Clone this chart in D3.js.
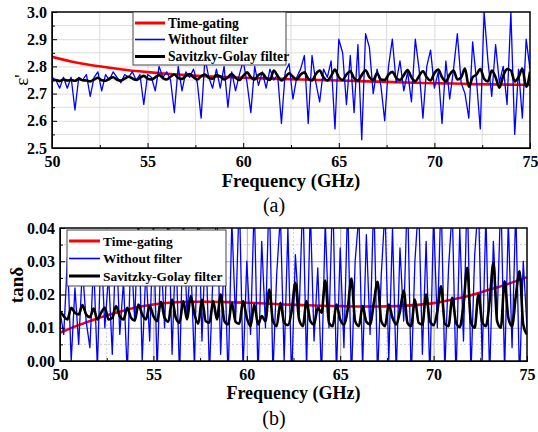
<!DOCTYPE html>
<html>
<head>
<meta charset="utf-8">
<script src="https://cdn.jsdelivr.net/npm/d3@7"></script>
<style>
  body { margin: 0; background: #fff; }
  svg, svg text { font-family: "Liberation Serif", "Times New Roman", serif; }
  svg { display: block; }
</style>
</head>
<body>
<div id="chart"></div>
<script>
// Sampling grid of the measured curves (GHz)
const freqStart = 50, freqStep = 0.2, freqCount = 126;
const freq = d3.range(freqCount).map(i => +(freqStart + i * freqStep).toFixed(1));
const freqCoarse = d3.range(50, 76);   // time-gating curves, 1 GHz step

const seriesNames = ['Time-gating', 'Without filter', 'Savitzky-Golay filter'];

// (a) real permittivity
const epsTimeGating = [2.835, 2.818, 2.805, 2.795, 2.786, 2.779, 2.773, 2.768, 2.764, 2.761, 2.758, 2.756, 2.754,
  2.752, 2.750, 2.748, 2.746, 2.744, 2.742, 2.740, 2.738, 2.737, 2.735, 2.734, 2.733, 2.732];

const epsRaw = [2.76, 2.75, 2.72, 2.76, 2.72, 2.76, 2.64, 2.76, 2.75, 2.77,
  2.69, 2.76, 2.78, 2.71, 2.77, 2.75, 2.78, 2.76, 2.74, 2.77,
  2.76, 2.78, 2.75, 2.77, 2.66, 2.77, 2.76, 2.71, 2.80, 2.76,
  2.78, 2.75, 2.63, 2.80, 2.71, 2.78, 2.76, 2.79, 2.74, 2.61,
  2.83, 2.76, 2.72, 2.79, 2.72, 2.80, 2.65, 2.78, 2.71, 2.77,
  2.82, 2.74, 2.63, 2.80, 2.73, 2.78, 2.72, 2.79, 2.75, 2.77,
  2.59, 2.78, 2.81, 2.68, 2.76, 2.79, 2.84, 2.59, 2.84, 2.74,
  2.67, 2.79, 2.76, 2.82, 2.57, 2.90, 2.85, 2.66, 2.84, 2.63,
  2.88, 2.53, 2.92, 2.87, 2.70, 2.79, 2.73, 2.60, 2.80, 2.90,
  2.74, 2.82, 2.71, 2.78, 2.67, 2.90, 2.79, 2.61, 2.80, 2.86,
  2.72, 2.78, 2.59, 2.82, 2.68, 2.79, 2.92, 2.74, 2.70, 2.61,
  2.89, 2.75, 2.57, 3.00, 2.82, 2.69, 2.88, 2.74, 2.80, 2.66,
  3.00, 2.55, 2.79, 2.61, 2.90, 2.79];

const epsSG = [2.748, 2.750, 2.746, 2.752, 2.748, 2.750, 2.747, 2.754, 2.749, 2.748,
  2.745, 2.752, 2.758, 2.749, 2.747, 2.755, 2.760, 2.751, 2.748, 2.755,
  2.762, 2.756, 2.750, 2.758, 2.765, 2.755, 2.752, 2.760, 2.768, 2.757,
  2.752, 2.762, 2.770, 2.758, 2.754, 2.765, 2.772, 2.760, 2.752, 2.764,
  2.770, 2.758, 2.755, 2.768, 2.763, 2.752, 2.760, 2.772, 2.758, 2.750,
  2.765, 2.778, 2.760, 2.752, 2.768, 2.775, 2.757, 2.750, 2.785, 2.765,
  2.748, 2.760, 2.775, 2.762, 2.752, 2.770, 2.778, 2.755, 2.748, 2.772,
  2.785, 2.760, 2.748, 2.765, 2.788, 2.760, 2.750, 2.770, 2.782, 2.757,
  2.748, 2.768, 2.786, 2.760, 2.750, 2.775, 2.752, 2.750, 2.770, 2.780,
  2.758, 2.750, 2.768, 2.787, 2.760, 2.745, 2.765, 2.782, 2.760, 2.748,
  2.775, 2.788, 2.760, 2.745, 2.770, 2.785, 2.752, 2.760, 2.792, 2.725,
  2.760, 2.770, 2.790, 2.755, 2.745, 2.785, 2.760, 2.722, 2.765, 2.790,
  2.785, 2.745, 2.760, 2.792, 2.725, 2.780];

// (b) loss tangent
const tanTimeGating = [0.0085, 0.0108, 0.0128, 0.0145, 0.0160, 0.0170, 0.0176, 0.0178, 0.0178, 0.0177, 0.0175,
  0.0173, 0.0170, 0.0168, 0.0166, 0.0165, 0.0164, 0.0164, 0.0165, 0.0168, 0.0174, 0.0185, 0.0198, 0.0215,
  0.0232, 0.0252];

const tanRaw = [0.015, 0.008, 0.031, 0.000, 0.022, 0.005, 0.028, 0.012, 0.004, 0.030,
  -0.002, 0.035, 0.010, 0.026, 0.002, 0.038, 0.008, 0.024, -0.004, 0.034,
  0.012, 0.045, 0.000, 0.028, 0.006, 0.042, -0.003, 0.032, 0.010, 0.048,
  0.002, 0.036, -0.005, 0.044, 0.014, 0.030, -0.002, 0.050, 0.006, 0.038,
  -0.004, 0.028, 0.046, 0.002, 0.034, -0.006, 0.042, 0.012, 0.050, -0.003,
  0.030, 0.008, 0.048, -0.005, 0.036, 0.010, 0.052, -0.004, 0.026, 0.044,
  0.000, 0.040, -0.006, 0.032, 0.014, 0.050, -0.002, 0.046, 0.006, 0.028,
  -0.005, 0.042, 0.010, 0.052, -0.004, 0.034, 0.004, 0.048, -0.006, 0.030,
  0.044, -0.002, 0.038, 0.008, 0.050, -0.005, 0.026, 0.046, 0.000, 0.040,
  -0.004, 0.034, 0.012, 0.052, -0.006, 0.030, 0.048, 0.002, 0.036, -0.005,
  0.044, 0.010, 0.050, -0.003, 0.028, 0.046, -0.006, 0.040, 0.006, 0.052,
  -0.004, 0.032, 0.048, 0.000, 0.044, -0.005, 0.036, 0.012, 0.050, -0.003,
  0.042, 0.004, 0.046, -0.006, 0.030, 0.010];

const tanSG = [0.0150, 0.0135, 0.0125, 0.0160, 0.0145, 0.0140, 0.0168, 0.0140, 0.0132, 0.0158,
  0.0125, 0.0145, 0.0160, 0.0125, 0.0130, 0.0165, 0.0135, 0.0125, 0.0160, 0.0130,
  0.0122, 0.0170, 0.0140, 0.0125, 0.0165, 0.0135, 0.0120, 0.0178, 0.0130, 0.0118,
  0.0185, 0.0130, 0.0115, 0.0180, 0.0125, 0.0195, 0.0140, 0.0112, 0.0185, 0.0120,
  0.0115, 0.0180, 0.0125, 0.0200, 0.0120, 0.0110, 0.0175, 0.0118, 0.0112, 0.0180,
  0.0130, 0.0105, 0.0170, 0.0110, 0.0135, 0.0120, 0.0215, 0.0120, 0.0105, 0.0175,
  0.0115, 0.0108, 0.0150, 0.0235, 0.0125, 0.0105, 0.0180, 0.0120, 0.0110, 0.0160,
  0.0145, 0.0242, 0.0115, 0.0105, 0.0170, 0.0125, 0.0110, 0.0155, 0.0248, 0.0120,
  0.0105, 0.0165, 0.0118, 0.0110, 0.0175, 0.0238, 0.0120, 0.0105, 0.0170, 0.0130,
  0.0110, 0.0150, 0.0212, 0.0115, 0.0105, 0.0185, 0.0115, 0.0110, 0.0200, 0.0120,
  0.0108, 0.0150, 0.0225, 0.0112, 0.0105, 0.0190, 0.0115, 0.0102, 0.0170, 0.0280,
  0.0115, 0.0100, 0.0200, 0.0118, 0.0105, 0.0180, 0.0295, 0.0120, 0.0100, 0.0240,
  0.0130, 0.0105, 0.0195, 0.0270, 0.0110, 0.0080];

const xTicks = [50, 55, 60, 65, 70, 75];
const xMinorTicks = [52.5, 57.5, 62.5, 67.5, 72.5];
const epsTicks = [2.5, 2.6, 2.7, 2.8, 2.9, 3.0];
const tanTicks = [0.00, 0.01, 0.02, 0.03, 0.04];

const W = 538, H = 432;
const serif = '"Liberation Serif", "Times New Roman", serif';
const colors = ['#ff0000', '#0000ff', '#000000'];
const widths = [2.6, 1.3, 2.6];

const svg = d3.select('#chart').append('svg')
  .attr('width', W).attr('height', H).attr('viewBox', `0 0 ${W} ${H}`);

const panels = [
  {
    id: 'a', left: 52, right: 530, top: 12, bottom: 148,
    yDomain: [2.5, 3.0], yTicks: epsTicks, yMinorStep: 0.05, yFmt: d3.format('.1f'),
    series: [epsTimeGating, epsRaw, epsSG],
    majorGrid: '#dcdcdc', minorGrid: '#dcdcdc', minorDash: null,
    legend: { x: 133, y: 12, w: 153, h: 53, rows: [23, 39.5, 56.5], lx0: 135, lx1: 165, tx: 168, font: 13.6 },
    ylabel: "ε'", ylabelX: 28, ylabelY: 80, ylabelBold: false,
    xlabelY: 187, xlabelSize: 18.6, cap: '(a)', capY: 212
  },
  {
    id: 'b', left: 60, right: 527, top: 228, bottom: 361,
    yDomain: [0, 0.04], yTicks: tanTicks, yMinorStep: 0.005, yFmt: d3.format('.2f'),
    series: [tanTimeGating, tanRaw, tanSG],
    majorGrid: '#a8a8a8', minorGrid: '#cfcfcf', minorDash: '2,2',
    legend: { x: 67, y: 230, w: 159, h: 56, rows: [241, 258.5, 276], lx0: 69, lx1: 100, tx: 103, font: 13.4 },
    ylabel: 'tanδ', ylabelX: 23, ylabelY: 285, ylabelBold: true,
    xlabelY: 399, xlabelSize: 18, cap: '(b)', capY: 425
  }
];

panels.forEach(drawPanel);

function drawPanel(p) {
  const x = d3.scaleLinear().domain([50, 75]).range([p.left, p.right]);
  const y = d3.scaleLinear().domain(p.yDomain).range([p.bottom, p.top]);
  const g = svg.append('g');

  const yMinor = d3.range(p.yDomain[0], p.yDomain[1] + 1e-9, p.yMinorStep)
    .map(v => +v.toFixed(4))
    .filter(v => !p.yTicks.some(t => Math.abs(t - v) < 1e-9));

  // gridlines: minor first, then major
  const grid = g.append('g').attr('class', 'grid');
  grid.selectAll('.gx-minor').data(xMinorTicks).join('line')
    .attr('x1', d => x(d)).attr('x2', d => x(d)).attr('y1', p.top).attr('y2', p.bottom)
    .attr('stroke', p.minorGrid).attr('stroke-dasharray', p.minorDash);
  grid.selectAll('.gy-minor').data(yMinor).join('line')
    .attr('x1', p.left).attr('x2', p.right).attr('y1', d => y(d)).attr('y2', d => y(d))
    .attr('stroke', p.minorGrid).attr('stroke-dasharray', p.minorDash);
  g.append('g')
    .attr('transform', `translate(0,${p.top})`)
    .call(d3.axisBottom(x).tickValues(xTicks.slice(1, -1)).tickSize(p.bottom - p.top).tickFormat(''))
    .call(a => a.select('.domain').remove())
    .call(a => a.selectAll('line').attr('stroke', p.majorGrid));
  g.append('g')
    .attr('transform', `translate(${p.left},0)`)
    .call(d3.axisRight(y).tickValues(p.yTicks.slice(1, -1)).tickSize(p.right - p.left).tickFormat(''))
    .call(a => a.select('.domain').remove())
    .call(a => a.selectAll('line').attr('stroke', p.majorGrid));

  // data lines, clipped to the plot area
  const clipId = 'clip-' + p.id;
  svg.append('clipPath').attr('id', clipId).append('rect')
    .attr('x', p.left).attr('y', p.top).attr('width', p.right - p.left).attr('height', p.bottom - p.top);

  const lines = g.append('g').attr('clip-path', `url(#${clipId})`);
  const smooth = d3.line().x(d => x(d[0])).y(d => y(d[1])).curve(d3.curveMonotoneX);
  const raw = d3.line().x(d => x(d[0])).y(d => y(d[1]));

  lines.append('path')
    .datum(freqCoarse.map((f, i) => [f, p.series[0][i]]))
    .attr('d', smooth).attr('fill', 'none').attr('stroke', colors[0]).attr('stroke-width', widths[0]);
  lines.append('path')
    .datum(freq.map((f, i) => [f, p.series[1][i]]))
    .attr('d', raw).attr('fill', 'none').attr('stroke', colors[1]).attr('stroke-width', widths[1])
    .attr('stroke-linejoin', 'round');
  lines.append('path')
    .datum(freq.map((f, i) => [f, p.series[2][i]]))
    .attr('d', smooth).attr('fill', 'none').attr('stroke', colors[2]).attr('stroke-width', widths[2])
    .attr('stroke-linejoin', 'round');

  // axes with inward ticks
  const xAxis = g.append('g').attr('transform', `translate(0,${p.bottom})`)
    .call(d3.axisBottom(x).tickValues(xTicks).tickSize(-5).tickPadding(8).tickFormat(d3.format('d')));
  g.append('g').attr('transform', `translate(0,${p.bottom})`)
    .call(d3.axisBottom(x).tickValues(xMinorTicks).tickSize(-3).tickFormat(''))
    .call(a => a.select('.domain').remove());
  const yAxis = g.append('g').attr('transform', `translate(${p.left},0)`)
    .call(d3.axisLeft(y).tickValues(p.yTicks).tickSize(-5).tickPadding(5).tickFormat(p.yFmt));
  g.append('g').attr('transform', `translate(${p.left},0)`)
    .call(d3.axisLeft(y).tickValues(yMinor).tickSize(-3).tickFormat(''))
    .call(a => a.select('.domain').remove());

  [xAxis, yAxis].forEach(a => {
    a.attr('font-family', null).attr('font-size', null);
    a.selectAll('text')
      .style('font-family', serif).style('font-size', '16px').style('font-weight', 'bold')
      .attr('fill', '#000');
  });

  // frame
  g.append('rect')
    .attr('x', p.left).attr('y', p.top).attr('width', p.right - p.left).attr('height', p.bottom - p.top)
    .attr('fill', 'none').attr('stroke', '#000').attr('stroke-width', 1.5);

  // legend
  const L = p.legend;
  const leg = g.append('g');
  leg.append('rect')
    .attr('x', L.x).attr('y', L.y).attr('width', L.w).attr('height', L.h)
    .attr('fill', '#fff').attr('stroke', '#444').attr('stroke-width', 1);
  seriesNames.forEach((name, i) => {
    leg.append('line')
      .attr('x1', L.lx0).attr('x2', L.lx1).attr('y1', L.rows[i]).attr('y2', L.rows[i])
      .attr('stroke', colors[i]).attr('stroke-width', widths[i] + (i === 1 ? 0.3 : 0.4));
    leg.append('text')
      .attr('x', L.tx).attr('y', L.rows[i]).attr('dy', '0.34em')
      .style('font-family', serif).style('font-size', L.font + 'px').style('font-weight', 'bold')
      .text(name);
  });

  // axis titles
  g.append('text')
    .attr('x', (p.left + p.right) / 2).attr('y', p.xlabelY)
    .attr('text-anchor', 'middle')
    .style('font-family', serif).style('font-size', p.xlabelSize + 'px').style('font-weight', 'bold')
    .text('Frequency (GHz)');
  g.append('text')
    .attr('transform', `translate(${p.ylabelX},${p.ylabelY}) rotate(-90)`)
    .attr('text-anchor', 'middle')
    .style('font-family', serif).style('font-size', '19px')
    .style('font-weight', p.ylabelBold ? 'bold' : 'normal')
    .text(p.ylabel);
  g.append('text')
    .attr('x', 274).attr('y', p.capY)
    .attr('text-anchor', 'middle')
    .style('font-family', serif).style('font-size', '20px')
    .text(p.cap);
}
</script>
</body>
</html>
